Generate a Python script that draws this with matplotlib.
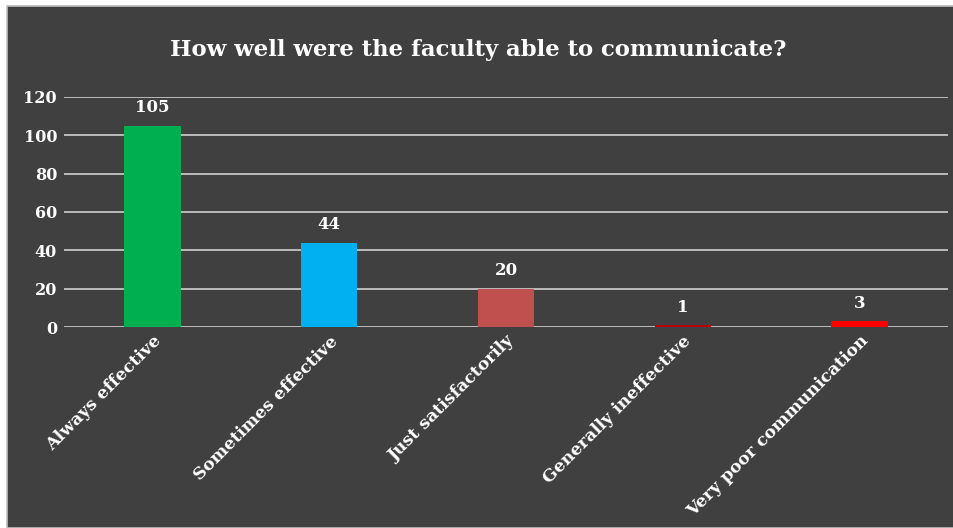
import matplotlib.pyplot as plt
from matplotlib.patches import Rectangle

categories = ['Always effective', 'Sometimes effective', 'Just satisfactorily',
              'Generally ineffective', 'Very poor communication']
counts = [105, 44, 20, 1, 3]
colors = ['#00B050', '#00B0F0', '#C0504D', '#C00000', '#FF0000']

plt.rcParams['font.family'] = ['DejaVu Serif']
plt.rcParams['font.weight'] = 'bold'

fig = plt.figure(figsize=(9.54, 5.28), dpi=100)
fig.patch.set_facecolor('white')

# dark chart area with thin grey border
panel = Rectangle((7 / 954, 0), 1, 1 - 6 / 528, transform=fig.transFigure,
                  facecolor='#404040', edgecolor='#bfbfbf', linewidth=1.2, zorder=-1)
fig.patches.append(panel)

ax = fig.add_axes([64 / 954, 1 - 327 / 528, (948 - 64) / 954, (327 - 97) / 528])
ax.set_facecolor('none')

x = range(len(categories))
bars = ax.bar(x, counts, width=0.32, color=colors, zorder=3)
for b, v in zip(bars, counts):
    ax.text(b.get_x() + b.get_width() / 2, v + 5, str(v), ha='center', va='bottom',
            color='white', fontsize=12, fontweight='bold')

ax.set_xlim(-0.5, len(categories) - 0.5)
ax.set_ylim(0, 120)
ax.set_yticks(range(0, 121, 20))
ax.yaxis.grid(True, color='#d0d0d0', linewidth=1.2, zorder=0)
ax.set_axisbelow(True)
for s in ax.spines.values():
    s.set_visible(False)
ax.tick_params(axis='both', length=0, colors='white')
ax.tick_params(axis='y', pad=5, labelsize=11.5)
ax.tick_params(axis='x', pad=4, labelsize=12.4)
ax.set_xticks(list(x))
ax.set_xticklabels(categories, rotation=45, ha='right', rotation_mode='anchor')
for lab in ax.get_xticklabels() + ax.get_yticklabels():
    lab.set_fontweight('bold')

fig.text(478 / 954, 1 - 50 / 528, 'How well were the faculty able to communicate?',
         ha='center', va='center', color='white', fontsize=16.4, fontweight='bold')

fig.savefig('out.png', dpi=100, facecolor=fig.get_facecolor())
